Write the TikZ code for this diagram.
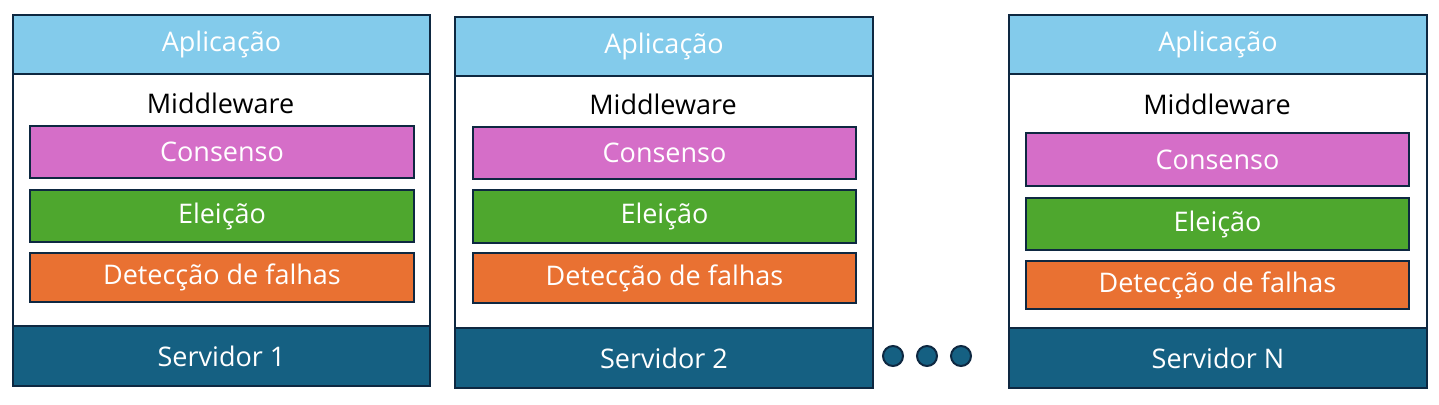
\documentclass[tikz,border=0pt]{standalone}
\usepackage{fontspec}
\setmainfont{Open Sans}
\definecolor{appcol}{HTML}{83CBEB}
\definecolor{conscol}{HTML}{D56EC8}
\definecolor{eleicol}{HTML}{4EA72E}
\definecolor{detcol}{HTML}{E97132}
\definecolor{servcol}{HTML}{156082}
\definecolor{edgecol}{HTML}{0E2841}
\tikzset{
  layer/.style={draw=edgecol, line width=2pt, inner sep=0pt, text=white,
    font=\fontsize{27}{31}\selectfont, anchor=north west},
  applayer/.style={layer, fill=appcol},
  midlayer/.style={layer, fill=white},
  conslayer/.style={layer, fill=conscol},
  eleilayer/.style={layer, fill=eleicol},
  detlayer/.style={layer, fill=detcol},
  servlayer/.style={layer, fill=servcol},
  midlabel/.style={text=black, font=\fontsize{27}{31}\selectfont, inner sep=0pt},
  dot/.style={circle, draw=edgecol, line width=2pt, fill=servcol, minimum size=20pt, inner sep=0pt}
}
\newcommand\layerbox[7]{\node[#1, minimum width={#5-#3}, minimum height={#6-#4}] (#2) at (#3,#4) {#7};}
\begin{document}
\begin{tikzpicture}[x=1pt, y=-1pt]
\useasboundingbox (0,0) rectangle (1439,404);
% Server 1
\layerbox{midlayer}{m1}{12}{73}{429}{325}{}
\layerbox{applayer}{a1}{12}{14}{429}{73}{Aplicação}
\layerbox{servlayer}{s1}{12}{325}{429}{385}{Servidor 1}
\node[midlabel] (ml1) at (220.5,103) {Middleware};
\layerbox{conslayer}{c1}{29}{125}{413}{177}{Consenso}
\layerbox{eleilayer}{e1}{29}{189}{413}{241}{Eleição}
\layerbox{detlayer}{d1}{29}{252}{413}{301}{Detecção de falhas}
% Server 2
\layerbox{midlayer}{m2}{454}{75}{872}{327}{}
\layerbox{applayer}{a2}{454}{16}{872}{75}{Aplicação}
\layerbox{servlayer}{s2}{454}{327}{872}{387}{Servidor 2}
\node[midlabel] (ml2) at (663,104) {Middleware};
\layerbox{conslayer}{c2}{472}{126}{855}{178}{Consenso}
\layerbox{eleilayer}{e2}{472}{189}{855}{242}{Eleição}
\layerbox{detlayer}{d2}{472}{252}{855}{302}{Detecção de falhas}
% Server N
\layerbox{midlayer}{m3}{1008}{73}{1426}{327}{}
\layerbox{applayer}{a3}{1008}{14}{1426}{73}{Aplicação}
\layerbox{servlayer}{s3}{1008}{327}{1426}{387}{Servidor N}
\node[midlabel] (ml3) at (1217,104) {Middleware};
\layerbox{conslayer}{c3}{1025}{132}{1408}{185}{Consenso}
\layerbox{eleilayer}{e3}{1025}{197}{1408}{249}{Eleição}
\layerbox{detlayer}{d3}{1025}{260}{1408}{308}{Detecção de falhas}
% dots
\node[dot] (p1) at (893,356) {};
\node[dot] (p2) at (927,356) {};
\node[dot] (p3) at (961,356) {};
\end{tikzpicture}
\end{document}
